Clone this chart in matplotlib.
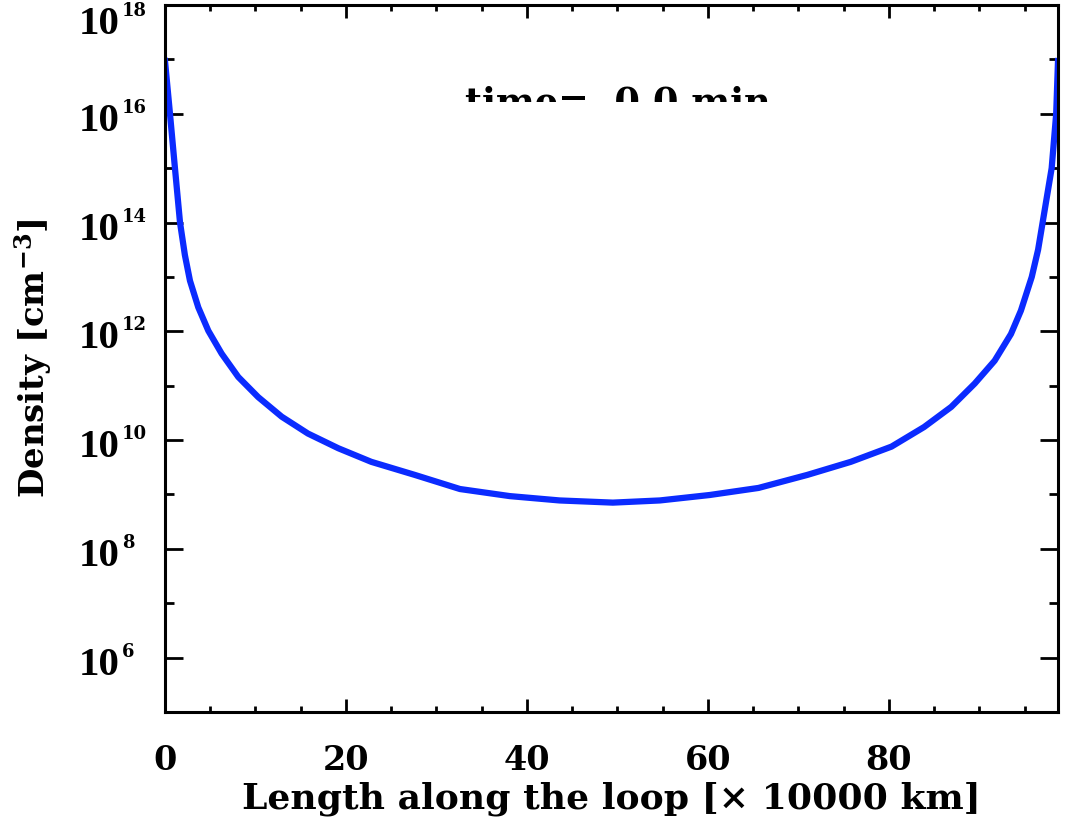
import numpy as np
import matplotlib.pyplot as plt
from matplotlib.ticker import FixedLocator, MultipleLocator, NullFormatter
from matplotlib.transforms import Bbox, TransformedBbox

plt.rcParams['font.family'] = 'DejaVu Serif'
plt.rcParams['mathtext.fontset'] = 'dejavuserif'

# dados (log10 da densidade ao longo do loop)
length = [0.0, 0.55, 1.1, 1.66, 2.2, 2.76, 3.68, 4.79, 6.26, 8.1, 10.3, 12.9, 15.8,
          19.15, 22.8, 27.6, 32.6, 38.1, 43.6, 49.5, 54.7, 60.2, 65.6, 71.0,
          75.8, 80.3, 83.9, 86.9, 89.5, 91.7, 93.5, 94.6, 95.8, 96.5, 97.0, 98.0,
          98.5, 98.7]
log_dens = [16.97, 16.0, 15.0, 14.0, 13.4, 12.93, 12.44, 12.01, 11.59, 11.16, 10.79,
            10.43, 10.12, 9.85, 9.60, 9.36, 9.10, 8.97, 8.89, 8.85, 8.89, 8.99,
            9.12, 9.36, 9.60, 9.88, 10.24, 10.61, 11.04, 11.46, 11.95, 12.38,
            13.0, 13.5, 14.0, 15.0, 16.0, 16.97]
ytick_exp = [6, 8, 10, 12, 14, 16, 18]
yminor_exp = [5, 7, 9, 11, 13, 15, 17]
xticks = [0, 20, 40, 60, 80]

dens = 10.0**np.array(log_dens)

fig = plt.figure(figsize=(10.72, 8.32), dpi=100)
ax = fig.add_axes([165/1072, 1-712/832, (1058-165)/1072, (712-5)/832])

ax.semilogy(length, dens, color='#0b2bff', lw=4.5, solid_joinstyle='round')

ax.set_xlim(0, 98.7)
ax.set_ylim(1e5, 1e18)

ax.xaxis.set_major_locator(FixedLocator(xticks))
ax.xaxis.set_minor_locator(MultipleLocator(5))
ax.yaxis.set_major_locator(FixedLocator([10.0**e for e in ytick_exp]))
ax.yaxis.set_minor_locator(FixedLocator([10.0**e for e in yminor_exp]))
ax.yaxis.set_major_formatter(NullFormatter())
ax.yaxis.set_minor_formatter(NullFormatter())
ax.set_xticklabels([str(t) for t in xticks], fontsize=24, fontweight='bold')

ax.tick_params(axis='x', which='major', direction='in', length=9.5, width=2,
               top=True, pad=23)
ax.tick_params(axis='x', which='minor', direction='in', length=4.5, width=2, top=True)
ax.tick_params(axis='y', which='major', direction='in', length=13, width=2, right=True)
ax.tick_params(axis='y', which='minor', direction='in', length=6.5, width=2, right=True)
for s in ax.spines.values():
    s.set_linewidth(2.2)

# rotulos do eixo y: 10 com expoente pequeno
for e in ytick_exp:
    dy = -12 if e == 18 else 0
    ax.annotate('10', xy=(0, 10.0**e), xycoords=('axes fraction', 'data'),
                xytext=(-45, -17 + dy), textcoords='offset pixels',
                ha='right', va='baseline', fontsize=29.5, fontweight='bold',
                family='Liberation Serif')
    ax.annotate(str(e), xy=(0, 10.0**e), xycoords=('axes fraction', 'data'),
                xytext=(-43, 1 + dy), textcoords='offset pixels',
                ha='left', va='baseline', fontsize=13, fontweight='bold')

ax.set_xlabel('Length along the loop [× 10000 km]', fontsize=26, fontweight='bold')
ax.xaxis.set_label_coords(0.5, -0.098)
ax.set_ylabel(r'Density [cm$^{\mathbf{-3}}$]', fontsize=24.5, fontweight='bold')
ax.yaxis.set_label_coords(-0.123, 0.5)

# texto do tempo, cortado na parte de baixo como na figura original
t = fig.text(618/1072, 1-85/832, 'time=  0.0 min', ha='center', va='top',
             fontsize=26.5, fontweight='bold')
t.set_clip_box(TransformedBbox(Bbox([[0, 1-102/832], [1, 1]]), fig.transFigure))
t.set_clip_on(True)

plt.savefig('out.png', dpi=100)
